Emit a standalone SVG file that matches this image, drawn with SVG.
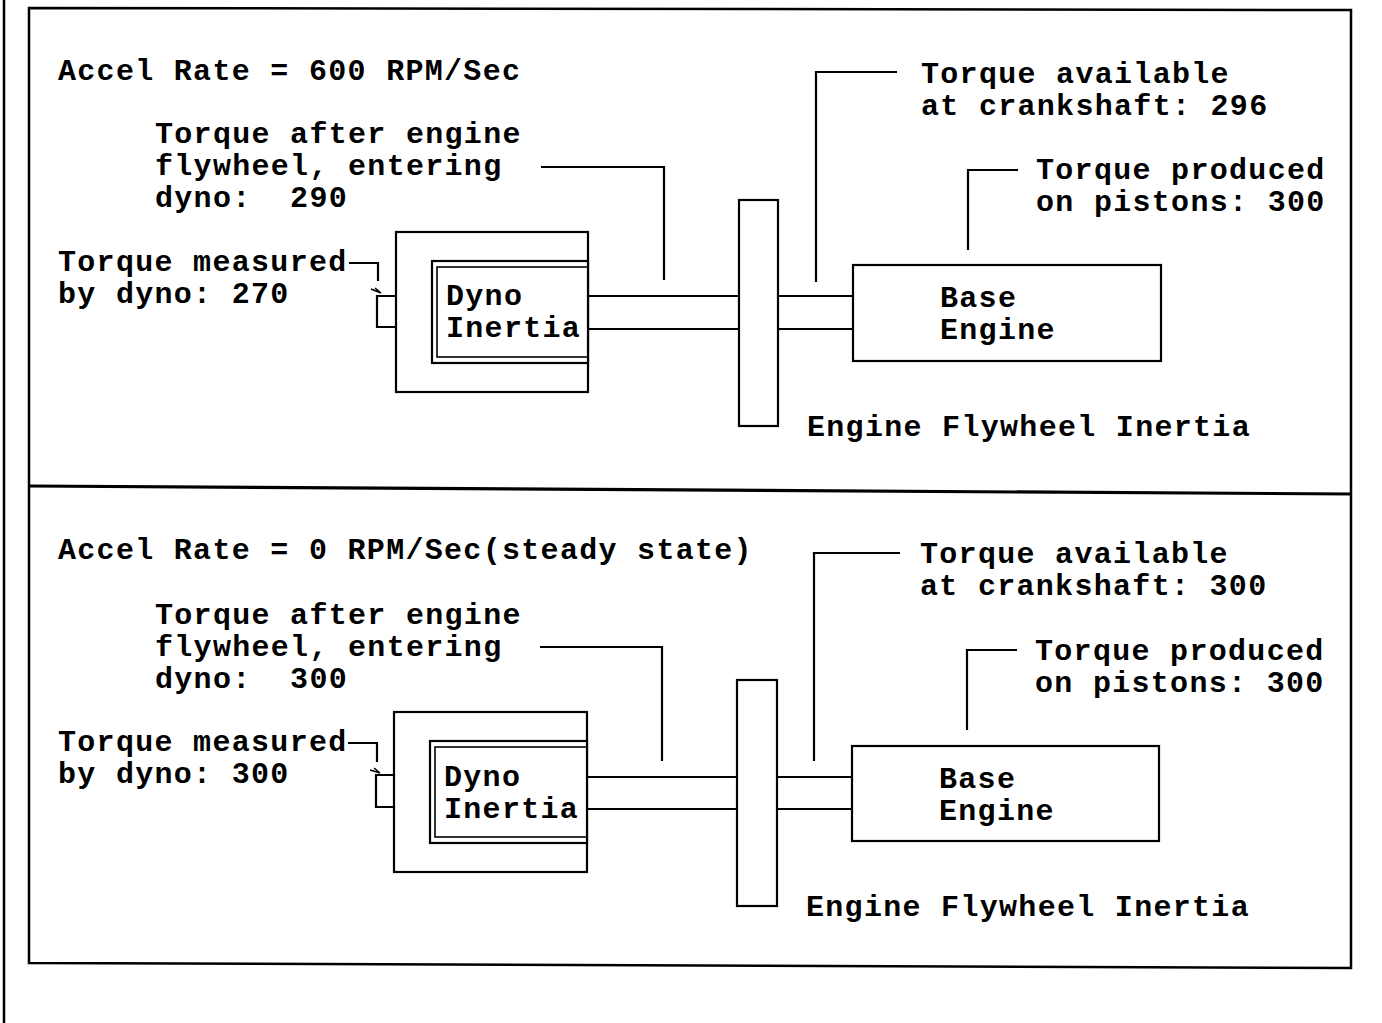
<svg xmlns="http://www.w3.org/2000/svg" width="1382" height="1023" viewBox="0 0 1382 1023">
<style>
  text { font-family: "Liberation Mono", "Courier New", monospace; font-weight: bold; font-size: 30px; letter-spacing: 1.3px; fill: #000; }
  .ln { fill: none; stroke: #000; stroke-width: 2.2; }
  .frame { fill: none; stroke: #000; stroke-width: 2.5; }
  .thin { fill: none; stroke: #000; stroke-width: 1.6; }
</style>
<rect x="0" y="0" width="1382" height="1023" fill="#fff"/>
<g id="frame">
  <line class="frame" x1="4" y1="0" x2="4" y2="1023"/>
  <path class="frame" d="M29,8 L1351,10 L1351,968 L29,963 Z"/>
  <line x1="29" y1="486" x2="1351" y2="494" stroke="#000" stroke-width="3.2"/>
</g>

<!-- ===== Top panel ===== -->
<g id="top-title"><text x="58" y="80" xml:space="preserve">Accel Rate = 600 RPM/Sec</text></g>
<g id="top-dyno">
  <rect class="ln" x="396" y="232" width="192" height="160"/>
  <rect class="ln" x="432" y="261" width="156" height="102" style="fill:#fff"/>
  <rect class="thin" x="437" y="267" width="151" height="90"/>
  <text x="446" y="305">Dyno</text>
  <text x="446" y="337">Inertia</text>
</g>
<g id="top-flywheel">
  <rect class="ln" x="739" y="200" width="39" height="226"/>
  <text x="807" y="436">Engine Flywheel Inertia</text>
</g>
<g id="top-engine">
  <rect class="ln" x="853" y="265" width="308" height="96"/>
  <text x="940" y="307">Base</text>
  <text x="940" y="339">Engine</text>
</g>
<g id="top-labels">
  <text x="155" y="143">Torque after engine</text>
  <text x="155" y="175">flywheel, entering</text>
  <text x="155" y="207" xml:space="preserve">dyno:  290</text>
  <text x="58" y="271">Torque measured</text>
  <text x="58" y="303">by dyno: 270</text>
  <text x="921" y="83">Torque available</text>
  <text x="921" y="115">at crankshaft: 296</text>
  <text x="1036" y="179">Torque produced</text>
  <text x="1036" y="211">on pistons: 300</text>
</g>

<!-- ===== Bottom panel ===== -->
<g id="bottom-title"><text x="58" y="559">Accel Rate = 0 RPM/Sec(steady state)</text></g>
<g id="bottom-dyno">
  <rect class="ln" x="394" y="712" width="193" height="160"/>
  <rect class="ln" x="430" y="741" width="157" height="102" style="fill:#fff"/>
  <rect class="thin" x="435" y="747" width="152" height="90"/>
  <text x="444" y="786">Dyno</text>
  <text x="444" y="818">Inertia</text>
</g>
<g id="bottom-flywheel">
  <rect class="ln" x="737" y="680" width="40" height="226"/>
  <text x="806" y="916">Engine Flywheel Inertia</text>
</g>
<g id="bottom-engine">
  <rect class="ln" x="852" y="746" width="307" height="95"/>
  <text x="939" y="788">Base</text>
  <text x="939" y="820">Engine</text>
</g>
<g id="bottom-labels">
  <text x="155" y="624">Torque after engine</text>
  <text x="155" y="656">flywheel, entering</text>
  <text x="155" y="688" xml:space="preserve">dyno:  300</text>
  <text x="58" y="751">Torque measured</text>
  <text x="58" y="783">by dyno: 300</text>
  <text x="920" y="563">Torque available</text>
  <text x="920" y="595">at crankshaft: 300</text>
  <text x="1035" y="660">Torque produced</text>
  <text x="1035" y="692">on pistons: 300</text>
</g>

<g id="connectors">
  <line class="ln" x1="588" y1="296" x2="739" y2="296"/>
  <line class="ln" x1="588" y1="329" x2="739" y2="329"/>
  <line class="ln" x1="778" y1="296" x2="853" y2="296"/>
  <line class="ln" x1="778" y1="329" x2="853" y2="329"/>
  <polyline class="ln" points="541,167 664,167 664,280"/>
  <polyline class="ln" points="897,72 816,72 816,282"/>
  <polyline class="ln" points="1018,170 968,170 968,250"/>
  <polyline class="ln" points="349,263 378,263 378,281"/>
  <path class="thin" d="M371,289 L381,293 M375,288 L381,293"/>
  <polyline class="ln" points="396,296 377,296 377,327 396,327"/>
  <line class="ln" x1="587" y1="777" x2="737" y2="777"/>
  <line class="ln" x1="587" y1="809" x2="737" y2="809"/>
  <line class="ln" x1="777" y1="777" x2="852" y2="777"/>
  <line class="ln" x1="777" y1="809" x2="852" y2="809"/>
  <polyline class="ln" points="540,647 662,647 662,761"/>
  <polyline class="ln" points="900,553 814,553 814,761"/>
  <polyline class="ln" points="1017,650 967,650 967,730"/>
  <polyline class="ln" points="348,743 377,743 377,762"/>
  <path class="thin" d="M370,770 L380,773 M374,768 L380,773"/>
  <polyline class="ln" points="394,775 376,775 376,807 394,807"/>
</g>
</svg>
